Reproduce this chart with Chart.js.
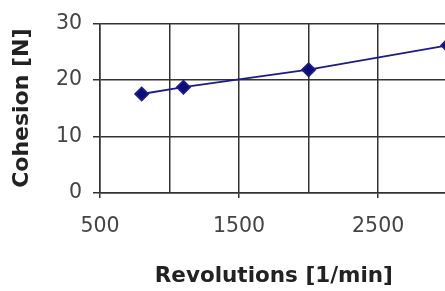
<!DOCTYPE html>
<html>
<head>
<meta charset="utf-8">
<script src="https://cdn.jsdelivr.net/npm/chart.js@4/dist/chart.umd.min.js"></script>
<style>
  html, body { margin: 0; padding: 0; background: #fff; overflow: hidden; }
  #wrap { width: 445px; height: 291px; overflow: hidden; }
</style>
</head>
<body>
<div id="wrap"><canvas id="myChart" width="456" height="291"></canvas></div>
<script>
// Data
var revolutions = [800, 1100, 2000, 3000];
var cohesion = [17.5, 18.7, 21.8, 26.1];
var xTickLabels = [500, 1500, 2500];
var yTickLabels = [0, 10, 20, 30];

var gridColor = '#333333';

var ctx = document.getElementById('myChart').getContext('2d');
var myChart = new Chart(ctx, {
    type: 'scatter',
    data: {
        datasets: [{
            label: 'Cohesion',
            data: revolutions.map(function (r, i) { return { x: r, y: cohesion[i] }; }),
            showLine: true,
            borderColor: '#1c1c88',
            backgroundColor: '#0c0c7c',
            borderWidth: 1.8,
            pointStyle: 'rectRot',
            pointRadius: 6.5,
            pointHoverRadius: 6.5,
            tension: 0
        }]
    },
    options: {
        responsive: false,
        animation: false,
        events: [],
        layout: { padding: { top: 22, right: 0, bottom: 0, left: 0 } },
        plugins: {
            legend: { display: false },
            tooltip: { enabled: false }
        },
        scales: {
            x: {
                type: 'linear',
                min: 500,
                max: 3000,
                afterFit: function (scale) {
                    scale.height = 98;
                    scale.paddingRight = 0;
                },
                border: { color: gridColor, width: 1.5 },
                grid: {
                    color: gridColor,
                    lineWidth: 1.5,
                    tickLength: 5,
                    tickColor: function (c) {
                        return xTickLabels.indexOf(c.tick.value) >= 0 ? gridColor : 'rgba(0,0,0,0)';
                    }
                },
                ticks: {
                    stepSize: 500,
                    maxRotation: 0,
                    autoSkip: false,
                    padding: 16,
                    color: '#444444',
                    font: { family: 'DejaVu Sans', size: 20.5 },
                    callback: function (v) { return xTickLabels.indexOf(v) >= 0 ? String(v) : ''; }
                },
                title: {
                    display: true,
                    text: 'Revolutions [1/min]',
                    color: '#222222',
                    font: { family: 'DejaVu Sans', size: 21.5, weight: 'bold' },
                    padding: { top: 0, bottom: 2 }
                }
            },
            y: {
                min: 0,
                max: 30,
                afterFit: function (scale) { scale.width = 100; },
                border: { color: gridColor, width: 1.5 },
                grid: { color: gridColor, lineWidth: 1.5, tickLength: 7 },
                ticks: {
                    stepSize: 10,
                    padding: 11,
                    color: '#444444',
                    font: { family: 'DejaVu Sans', size: 20.5 },
                    callback: function (v) { return yTickLabels.indexOf(v) >= 0 ? String(v) : ''; }
                },
                title: {
                    display: true,
                    text: 'Cohesion [N]',
                    color: '#222222',
                    font: { family: 'DejaVu Sans', size: 22, weight: 'bold' },
                    padding: { top: 9, bottom: 0 }
                }
            }
        }
    }
});
</script>
</body>
</html>
